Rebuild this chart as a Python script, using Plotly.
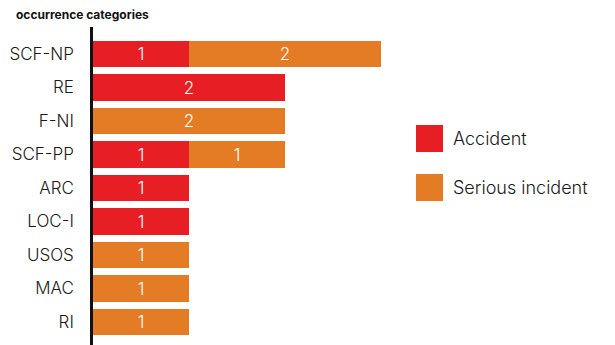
import plotly.graph_objects as go

# Occurrence categories, top to bottom
categories = ["SCF-NP", "RE", "F-NI", "SCF-PP", "ARC", "LOC-I", "USOS", "MAC", "RI"]
accident = [1, 2, 0, 1, 1, 1, 0, 0, 0]
serious_incident = [2, 0, 2, 1, 0, 0, 1, 1, 1]

series_names = ["Accident", "Serious incident"]
series_values = [accident, serious_incident]
series_colors = ["#E81E25", "#E47B25"]

FONT = "Inter, Lato, sans-serif"
W, H = 615, 345

# Plot area geometry in pixels
ml, mr, mt, mb = 93, 215, 27, 0
pw, ph = W - ml - mr, H - mt - mb


def px_to_paper_x(px):
    return (px - ml) / pw


def px_to_paper_y(py):
    return (H - mb - py) / ph


fig = go.Figure()
for name, vals, color in zip(series_names, series_values, series_colors):
    fig.add_trace(go.Bar(
        y=categories,
        x=[v if v else None for v in vals],
        name=name,
        orientation="h",
        marker=dict(color=color, line=dict(width=0)),
        text=[str(v) if v else "" for v in vals],
        textposition="inside",
        insidetextanchor="middle",
        textfont=dict(color="#FFFFFF", size=17, family=FONT, weight=300),
        showlegend=False,
        hoverinfo="skip",
    ))

# Legend with large square swatches
shapes = []
annotations = []
for i, (name, color) in enumerate(zip(series_names, series_colors)):
    top = 125 + i * 49
    shapes.append(dict(
        type="rect", xref="paper", yref="paper",
        x0=px_to_paper_x(416), x1=px_to_paper_x(443),
        y0=px_to_paper_y(top + 27), y1=px_to_paper_y(top),
        fillcolor=color, line=dict(width=0),
    ))
    annotations.append(dict(
        text=name, xref="paper", yref="paper",
        x=px_to_paper_x(451), y=px_to_paper_y(top + 13.5),
        xanchor="left", yanchor="middle", showarrow=False,
        font=dict(size=18, color="#1a1a1a", family=FONT, weight=300),
    ))

fig.update_layout(
    width=W, height=H,
    margin=dict(l=ml, r=mr, t=mt, b=mb, pad=0),
    paper_bgcolor="#FFFFFF",
    plot_bgcolor="#FFFFFF",
    barmode="stack",
    bargap=0.2,
    title=dict(
        text="<b>occurrence categories</b>",
        x=16 / W, xref="container", xanchor="left",
        y=1 - 15 / H, yref="container", yanchor="middle",
        font=dict(size=12, color="#111111", family=FONT),
    ),
    xaxis=dict(
        range=[0, pw / 96.0],
        visible=False,
        showgrid=False,
        zeroline=False,
        fixedrange=True,
    ),
    yaxis=dict(
        categoryorder="array",
        categoryarray=categories,
        range=[8 + (345 - 322) / 33.5, -(54 - 27) / 33.5],
        showline=True,
        linecolor="#111111",
        linewidth=2.5,
        showgrid=False,
        zeroline=False,
        ticks="",
        ticklabelstandoff=13,
        tickfont=dict(size=17, color="#1a1a1a", family=FONT, weight=300),
        fixedrange=True,
    ),
    shapes=shapes,
    annotations=annotations,
    showlegend=False,
)

fig.write_html("out.html")
